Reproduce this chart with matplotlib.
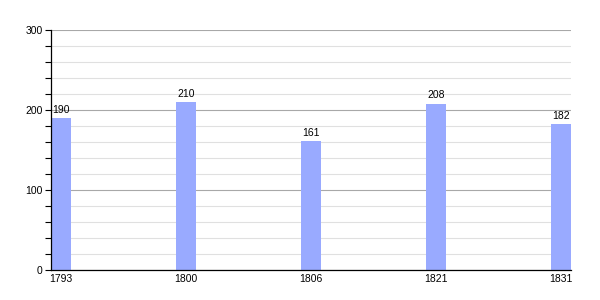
import matplotlib
matplotlib.use("Agg")
import matplotlib.pyplot as plt
import numpy as np
from matplotlib.ticker import MultipleLocator

years = ["1793", "1800", "1806", "1821", "1831"]
population = [190, 210, 161, 208, 182]

plt.rcParams["font.family"] = ["Liberation Sans", "DejaVu Sans"]

fig = plt.figure(figsize=(6, 3), dpi=100)
ax = fig.add_axes([0.085, 0.1, 0.867, 0.8])

x = np.arange(len(years))
w = 0.16
ax.bar(x, population, width=w, color="#99aaff", zorder=3)
for xi, v in zip(x, population):
    ax.text(xi, v + 4, str(v), ha="center", va="bottom", fontsize=7.5, zorder=4)

ax.set_xlim(-w / 2, len(years) - 1 + w / 2)
ax.set_ylim(0, 300)
ax.set_xticks(x)
ax.set_xticklabels(years, fontsize=7.5)
ax.yaxis.set_major_locator(MultipleLocator(100))
ax.yaxis.set_minor_locator(MultipleLocator(20))
ax.tick_params(axis="y", which="both", length=4, width=0.8, labelsize=7.5, pad=2)
ax.tick_params(axis="x", length=0, pad=3)

ax.grid(axis="y", which="minor", color="#e0e0e0", lw=0.8, zorder=0)
ax.grid(axis="y", which="major", color="#a8a8a8", lw=0.8, zorder=1)

for s in ("top", "right"):
    ax.spines[s].set_visible(False)
ax.spines["left"].set_linewidth(0.9)
ax.spines["bottom"].set_linewidth(0.9)
ax.spines["left"].set_zorder(5)
ax.spines["bottom"].set_zorder(5)

fig.savefig("out.png", dpi=100)
